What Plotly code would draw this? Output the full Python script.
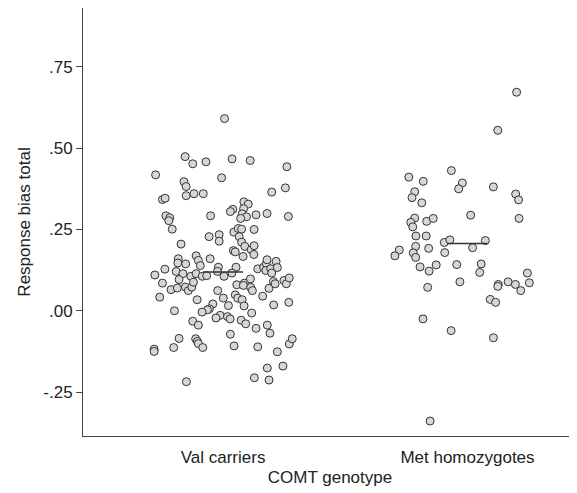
import plotly.graph_objects as go

categories = ["Val carriers", "Met homozygotes"]
cat_pos = [1, 2]

val_values = [
    0.591, 0.474, 0.452, 0.458, 0.467, 0.462, 0.443, 0.418, 0.409, 0.397,
    0.382, 0.354, 0.360, 0.360, 0.342, 0.346, 0.365, 0.378, 0.292, 0.286,
    0.277, 0.251, 0.292, 0.312, 0.305, 0.335, 0.328, 0.314, 0.298, 0.289,
    0.284, 0.295, 0.299, 0.290, 0.205, 0.228, 0.234, 0.214, 0.242, 0.253,
    0.251, 0.228, 0.211, 0.250,
    0.185, 0.181, 0.167, 0.198, 0.188, 0.173, 0.200, 0.134, 0.116, 0.106,
    0.129, 0.134, 0.145, 0.157, 0.124, 0.129, 0.116, 0.152, 0.133, 0.080,
    0.085, 0.078, 0.098, 0.072, 0.062, 0.039, 0.016, 0.049, 0.039, 0.034,
    0.015, -0.014, -0.018, -0.025, -0.007, -0.029, -0.040, -0.054, -0.072, -0.108,
    -0.111, 0.045, 0.069, 0.090, 0.083, 0.093, 0.083, 0.101, 0.018, 0.026,
    -0.044, -0.069, -0.126, -0.102, -0.086, -0.176, -0.170, -0.206, -0.213,
    0.169, 0.155, 0.139, 0.160, 0.160, 0.147, 0.144, 0.128, 0.110, 0.121,
    0.114, 0.096, 0.106, 0.114, 0.106, 0.108, 0.134, 0.121, 0.085, 0.065,
    0.070, 0.073, 0.062, 0.073, 0.088, 0.042, 0.034, 0.062, 0.021, 0.006,
    0.003, -0.004, 0.000, -0.022, -0.032, -0.044, -0.085, -0.086, -0.094, -0.101,
    -0.113, -0.113, -0.118, -0.125, -0.218,
]
val_jitter = [
    0.006, -0.155, -0.124, -0.070, 0.037, 0.111, 0.261, -0.276, -0.006, -0.160,
    -0.151, -0.151, -0.119, -0.081, -0.248, -0.237, 0.199, 0.255, -0.234, -0.218,
    -0.222, -0.208, -0.051, 0.040, 0.030, 0.085, 0.103, 0.084, 0.078, 0.096,
    0.072, 0.135, 0.180, 0.267, -0.172, -0.057, -0.016, -0.016, 0.044, 0.062,
    0.076, 0.066, 0.076, 0.127,
    0.042, 0.050, 0.082, 0.089, 0.115, 0.126, 0.127, 0.053, 0.036, 0.004,
    0.142, 0.166, 0.177, 0.180, 0.175, 0.195, 0.199, 0.217, 0.222, 0.056,
    0.087, 0.083, 0.112, 0.113, 0.120, 0.001, 0.022, 0.050, 0.060, 0.078,
    0.086, -0.012, 0.018, 0.029, 0.117, 0.074, 0.093, 0.135, 0.030, 0.045,
    0.142, 0.162, 0.188, 0.206, 0.213, 0.249, 0.259, 0.271, 0.207, 0.269,
    0.181, 0.192, 0.222, 0.271, 0.283, 0.181, 0.245, 0.128, 0.188,
    -0.110, -0.101, -0.093, -0.053, -0.183, -0.185, -0.153, -0.238, -0.279, -0.192,
    -0.164, -0.180, -0.132, -0.110, -0.085, -0.067, -0.019, -0.023, -0.248, -0.213,
    -0.187, -0.154, -0.142, -0.128, -0.121, -0.259, -0.106, -0.022, -0.042, -0.056,
    -0.064, -0.086, -0.199, -0.029, -0.124, -0.101, -0.180, -0.112, -0.105, -0.101,
    -0.083, -0.202, -0.282, -0.282, -0.150,
]

met_values = [
    0.672, 0.555, 0.431, 0.411, 0.398, 0.393, 0.375, 0.381, 0.366, 0.348,
    0.332, 0.359, 0.341, 0.294, 0.284, 0.285, 0.272, 0.258, 0.275, 0.284,
    0.230, 0.230, 0.210, 0.218, 0.216, 0.194, 0.198, 0.192, 0.179, 0.187,
    0.169, 0.178, 0.164, 0.135, 0.122, 0.141, 0.142, 0.144, 0.118, 0.089,
    0.072, 0.116, 0.086, 0.081, 0.075, 0.089, 0.081, 0.062, 0.035, 0.026,
    -0.025, -0.061, -0.083, -0.339,
]
met_jitter = [
    0.201, 0.124, -0.066, -0.240, -0.181, -0.021, -0.036, 0.106, -0.216, -0.227,
    -0.187, 0.197, 0.209, 0.013, 0.211, -0.216, -0.232, -0.224, -0.167, -0.140,
    -0.211, -0.169, -0.095, -0.072, 0.073, 0.021, -0.212, -0.159, -0.093, -0.279,
    -0.297, -0.222, -0.212, -0.194, -0.157, -0.128, -0.044, 0.056, 0.050, -0.031,
    -0.163, 0.245, 0.253, 0.126, 0.124, 0.166, 0.196, 0.218, 0.093, 0.115,
    -0.182, -0.067, 0.106, -0.153,
]

medians = [0.119, 0.207]
median_halfwidth = 0.082

y_tickvals = [-0.25, 0.0, 0.25, 0.5, 0.75]
y_ticktext = ["-.25", ".00", ".25", ".50", ".75"]

fig = go.Figure()

marker_style = dict(size=8, color="#d6d6d6", line=dict(color="#333333", width=1))

for pos, vals, jit in [(cat_pos[0], val_values, val_jitter),
                       (cat_pos[1], met_values, met_jitter)]:
    fig.add_trace(go.Scatter(
        x=[pos + j for j in jit], y=vals, mode="markers",
        marker=marker_style, showlegend=False, hoverinfo="y",
    ))

for pos, med in zip(cat_pos, medians):
    fig.add_trace(go.Scatter(
        x=[pos - median_halfwidth, pos + median_halfwidth], y=[med, med],
        mode="lines", line=dict(color="#333333", width=1.5),
        showlegend=False, hoverinfo="skip",
    ))

font_family = "Liberation Sans, Arial, sans-serif"

fig.update_layout(
    width=569, height=485,
    margin=dict(l=75, r=0, t=0, b=57, autoexpand=False),
    paper_bgcolor="white", plot_bgcolor="white",
    font=dict(family=font_family, size=17, color="#222222"),
    xaxis=dict(
        range=[0.427, 2.448],
        tickvals=cat_pos, ticktext=categories,
        showline=True, linecolor="#444444", linewidth=1,
        ticks="", showgrid=False, zeroline=False,
        tickfont=dict(size=17), ticklabelstandoff=6,
        title=dict(text="COMT genotype", font=dict(size=17), standoff=4),
    ),
    yaxis=dict(
        range=[-0.385, 0.931],
        tickvals=y_tickvals, ticktext=y_ticktext,
        showline=True, linecolor="#444444", linewidth=1,
        ticks="outside", ticklen=6, tickcolor="#444444",
        showgrid=False, zeroline=False,
        tickfont=dict(size=17),
        title=dict(text="Response bias total", font=dict(size=17), standoff=8),
    ),
)

fig.write_html("out.html")
